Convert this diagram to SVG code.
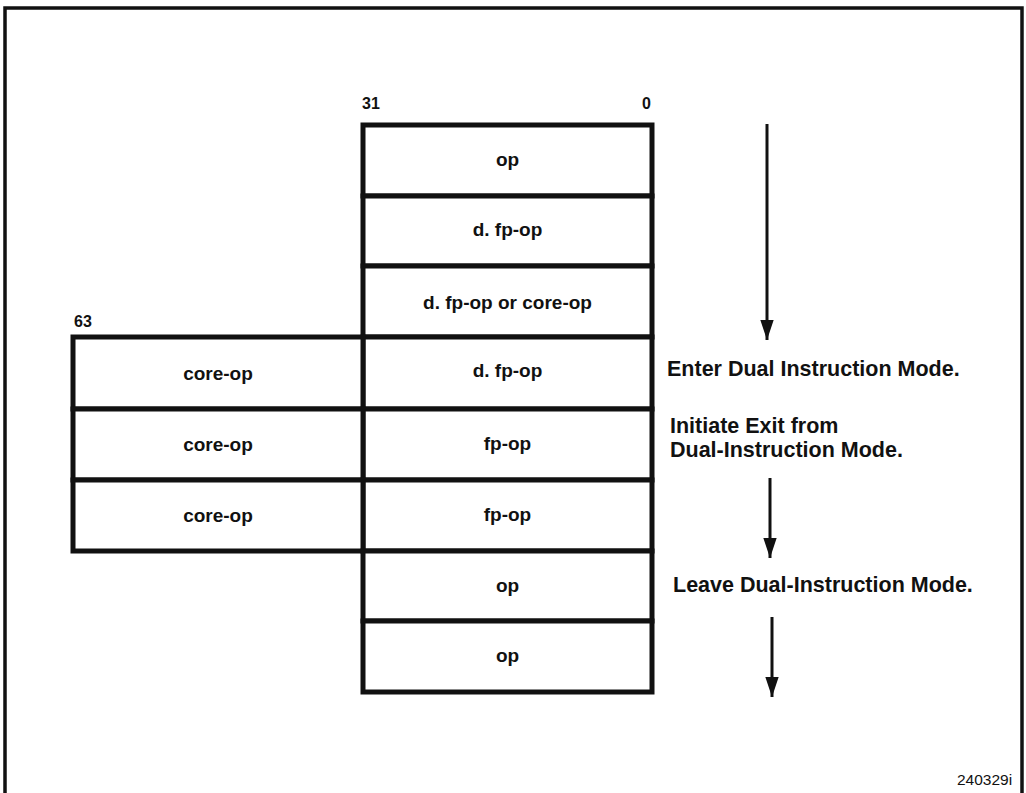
<svg xmlns="http://www.w3.org/2000/svg" width="1026" height="793" viewBox="0 0 1026 793">
<style>
.cell{fill:#fff;stroke:#111;stroke-width:5}
.lbl{font-family:"Liberation Sans",Arial,sans-serif;font-weight:bold;font-size:19px;fill:#111;text-anchor:middle}
.bit{font-family:"Liberation Sans",Arial,sans-serif;font-weight:bold;font-size:16px;fill:#111}
.note{font-family:"Liberation Sans",Arial,sans-serif;font-weight:bold;font-size:21.5px;fill:#111}
.fig{font-family:"Liberation Sans",Arial,sans-serif;font-size:15.5px;fill:#111}
.arrow{stroke:#111;stroke-width:3;fill:none}
.frame{stroke:#111;stroke-width:3.5;fill:none}
</style>
<defs>
<marker id="ah" markerUnits="userSpaceOnUse" markerWidth="20" markerHeight="14" refX="18" refY="6" orient="auto" viewBox="0 0 18 12">
<path d="M0,0 L18,6 L0,12 Z" fill="#111"/>
</marker>
</defs>
<rect width="1026" height="793" fill="#fff"/>
<path class="frame" d="M5,793 L5,8 L1022,8 L1022,793"/>

<g id="bit-labels">
<text class="bit" x="362" y="109">31</text>
<text class="bit" x="642" y="109">0</text>
<text class="bit" x="74" y="327">63</text>
</g>

<g id="row1"><rect class="cell" x="363" y="125" width="289" height="71"/><text class="lbl" x="507.5" y="166">op</text></g>
<g id="row2"><rect class="cell" x="363" y="196" width="289" height="70"/><text class="lbl" x="507.5" y="236">d. fp-op</text></g>
<g id="row3"><rect class="cell" x="363" y="266" width="289" height="71"/><text class="lbl" x="507.5" y="309">d. fp-op or core-op</text></g>
<g id="row4-low"><rect class="cell" x="363" y="337" width="289" height="72"/><text class="lbl" x="507.5" y="377">d. fp-op</text></g>
<g id="row4-high"><rect class="cell" x="73" y="337" width="290" height="72"/><text class="lbl" x="218" y="380">core-op</text></g>
<g id="row5-low"><rect class="cell" x="363" y="409" width="289" height="71"/><text class="lbl" x="507.5" y="450">fp-op</text></g>
<g id="row5-high"><rect class="cell" x="73" y="409" width="290" height="71"/><text class="lbl" x="218" y="451">core-op</text></g>
<g id="row6-low"><rect class="cell" x="363" y="480" width="289" height="71"/><text class="lbl" x="507.5" y="521">fp-op</text></g>
<g id="row6-high"><rect class="cell" x="73" y="480" width="290" height="71"/><text class="lbl" x="218" y="522">core-op</text></g>
<g id="row7"><rect class="cell" x="363" y="551" width="289" height="70"/><text class="lbl" x="507.5" y="592">op</text></g>
<g id="row8"><rect class="cell" x="363" y="621" width="289" height="71"/><text class="lbl" x="507.5" y="662">op</text></g>

<g id="notes">
<text class="note" x="667" y="376">Enter Dual Instruction Mode.</text>
<text class="note" x="670" y="433">Initiate Exit from</text>
<text class="note" x="670" y="457">Dual-Instruction Mode.</text>
<text class="note" x="673" y="592">Leave Dual-Instruction Mode.</text>
</g>

<g id="connectors">
<line class="arrow" x1="767" y1="124" x2="767" y2="340" marker-end="url(#ah)"/>
<line class="arrow" x1="770" y1="478" x2="770" y2="558" marker-end="url(#ah)"/>
<line class="arrow" x1="772" y1="617" x2="772" y2="697" marker-end="url(#ah)"/>
</g>

<g id="figure-id">
<text class="fig" x="957" y="785">240329i</text>
</g>
</svg>
